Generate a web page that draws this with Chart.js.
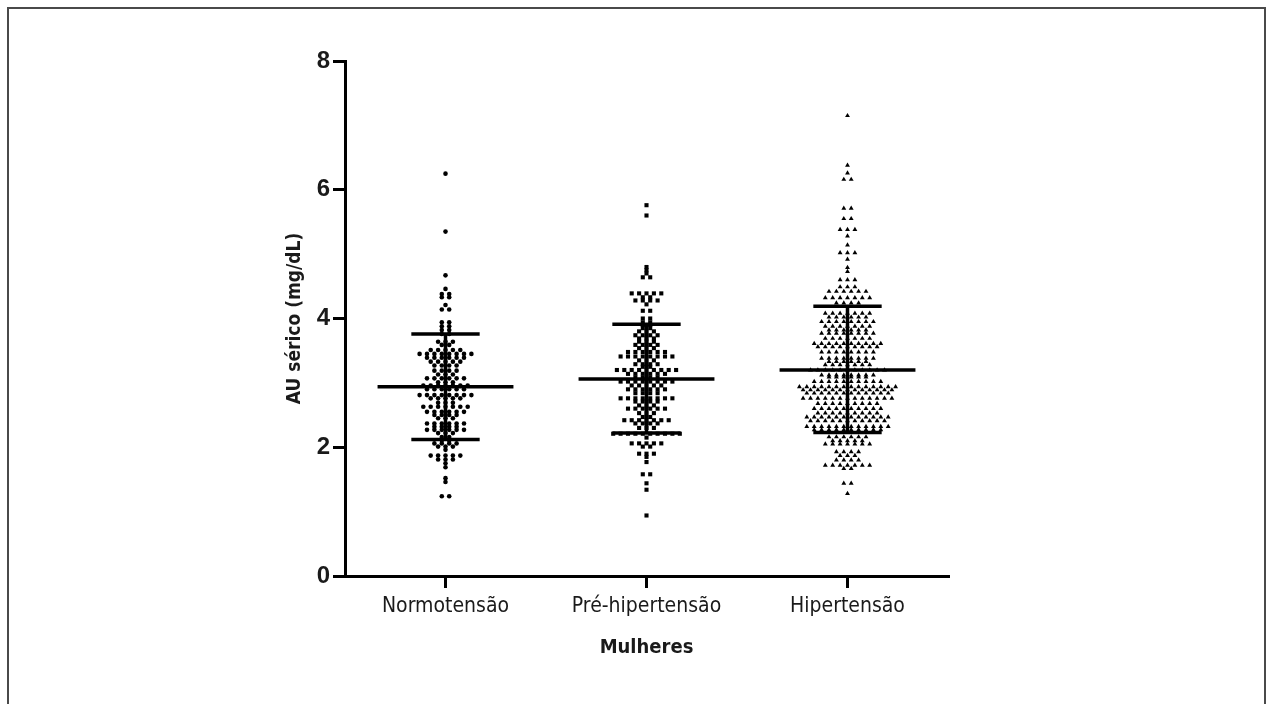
<!DOCTYPE html>
<html>
<head>
<meta charset="utf-8">
<script src="https://cdn.jsdelivr.net/npm/chart.js@4.4.1/dist/chart.umd.min.js"></script>
<style>
  body { margin: 0; background: #fff; overflow: hidden; }
  #frame { position: absolute; left: 7px; top: 7px; width: 1255px; height: 760px; border: 2px solid #4a4a4a; }
  #myChart { position: absolute; left: 0; top: 0; }
</style>
</head>
<body>
<div id="frame"></div>
<canvas id="myChart" width="1266" height="704"></canvas>
<script>
// groups on the x axis
const categories = ['Normotensão', 'Pré-hipertensão', 'Hipertensão'];
const yTicks = [0, 2, 4, 6, 8];

// AU sérico (mg/dL)
const normotensao = [
  6.25, 5.35, 4.67, 4.46, 4.38, 4.38, 4.33, 4.33, 4.21, 4.14, 4.14,
  3.94, 3.94, 3.88, 3.88, 3.82, 3.82, 3.76, 3.76,
  3.64, 3.64, 3.64, 3.59, 3.59, 3.51, 3.51, 3.51, 3.51, 3.51,
  3.45, 3.45, 3.45, 3.45, 3.45, 3.45, 3.45, 3.45,
  3.39, 3.39, 3.39, 3.39, 3.39, 3.39, 3.33, 3.33, 3.33, 3.33, 3.33,
  3.27, 3.27, 3.27, 3.27, 3.19, 3.19, 3.19, 3.19, 3.13, 3.13, 3.13,
  3.07, 3.07, 3.07, 3.07, 3.07, 3.07, 3.01, 3.01, 3.01,
  2.96, 2.96, 2.96, 2.96, 2.96, 2.96, 2.96, 2.90, 2.90, 2.90, 2.90, 2.90, 2.90,
  2.81, 2.81, 2.81, 2.81, 2.81, 2.81, 2.81, 2.81, 2.76, 2.76, 2.76, 2.76, 2.76,
  2.69, 2.69, 2.69, 2.63, 2.63, 2.63, 2.63, 2.63, 2.63, 2.63,
  2.55, 2.55, 2.55, 2.55, 2.55, 2.55, 2.50, 2.50, 2.50, 2.50, 2.45, 2.45, 2.45,
  2.37, 2.37, 2.37, 2.37, 2.37, 2.37, 2.32, 2.32, 2.32, 2.32,
  2.27, 2.27, 2.27, 2.27, 2.27, 2.27, 2.22, 2.22, 2.22, 2.16, 2.16, 2.11, 2.11,
  2.06, 2.06, 2.06, 2.06, 2.01, 2.01, 2.01, 1.96,
  1.87, 1.87, 1.87, 1.87, 1.87, 1.81, 1.81, 1.81, 1.75, 1.69, 1.52, 1.46, 1.24, 1.24
];
const preHipertensao = [
  5.76, 5.60, 4.80, 4.75, 4.70, 4.64, 4.64,
  4.39, 4.39, 4.39, 4.39, 4.39, 4.33, 4.33, 4.28, 4.28, 4.28, 4.28, 4.22,
  4.12, 4.12, 4.00, 4.00, 3.94, 3.94, 3.90, 3.90,
  3.85, 3.85, 3.80, 3.80, 3.80, 3.74, 3.74, 3.74, 3.74, 3.69, 3.69, 3.69,
  3.64, 3.64, 3.64, 3.59, 3.59, 3.59, 3.59, 3.54, 3.54, 3.54,
  3.48, 3.48, 3.48, 3.48, 3.48, 3.48,
  3.41, 3.41, 3.41, 3.41, 3.41, 3.41, 3.41, 3.41, 3.35, 3.35, 3.35,
  3.29, 3.29, 3.29, 3.29, 3.25, 3.25,
  3.20, 3.20, 3.20, 3.20, 3.20, 3.20, 3.20, 3.20, 3.20,
  3.14, 3.14, 3.14, 3.14, 3.14, 3.14, 3.08, 3.08, 3.08, 3.08,
  3.02, 3.02, 3.02, 3.02, 3.02, 3.02, 3.02, 3.02, 2.96, 2.96, 2.96, 2.96, 2.96,
  2.90, 2.90, 2.90, 2.90, 2.90, 2.90, 2.84, 2.84, 2.84, 2.84,
  2.76, 2.76, 2.76, 2.76, 2.76, 2.76, 2.76, 2.76, 2.71, 2.71, 2.71, 2.71,
  2.65, 2.65, 2.65, 2.60, 2.60, 2.60, 2.60, 2.60, 2.60, 2.53, 2.53, 2.53, 2.47, 2.47,
  2.42, 2.42, 2.42, 2.42, 2.42, 2.42, 2.42, 2.37, 2.37, 2.37, 2.37, 2.30, 2.30, 2.30,
  2.21, 2.21, 2.21, 2.21, 2.21, 2.21, 2.21, 2.21, 2.21, 2.21, 2.15,
  2.06, 2.06, 2.06, 2.06, 2.06, 2.01, 2.01, 1.90, 1.90, 1.90, 1.85, 1.77,
  1.58, 1.58, 1.44, 1.34, 0.94
];
const hipertensao = [
  7.15, 6.38, 6.26, 6.16, 6.16, 5.71, 5.71, 5.55, 5.55, 5.38, 5.38, 5.38, 5.28, 5.14,
  5.02, 5.02, 5.02, 4.92, 4.79, 4.73, 4.60, 4.60, 4.60, 4.49, 4.49, 4.49,
  4.42, 4.42, 4.42, 4.42, 4.42, 4.42, 4.32, 4.32, 4.32, 4.32, 4.32, 4.32, 4.32,
  4.24, 4.24, 4.24, 4.24, 4.08, 4.08, 4.08, 4.08, 4.08, 4.08, 4.08,
  4.02, 4.02, 4.02, 4.02, 4.02, 4.02, 3.95, 3.95, 3.95, 3.95, 3.95, 3.95, 3.95, 3.95,
  3.88, 3.88, 3.88, 3.88, 3.88, 3.88, 3.88, 3.82, 3.82, 3.82, 3.82, 3.82, 3.82,
  3.77, 3.77, 3.77, 3.77, 3.77, 3.77, 3.77, 3.77, 3.69, 3.69, 3.69, 3.69, 3.69, 3.69, 3.69,
  3.61, 3.61, 3.61, 3.61, 3.61, 3.61, 3.61, 3.61, 3.61, 3.61,
  3.56, 3.56, 3.56, 3.56, 3.56, 3.56, 3.56, 3.56, 3.56,
  3.48, 3.48, 3.48, 3.48, 3.48, 3.48, 3.48, 3.48, 3.38, 3.38, 3.38, 3.38, 3.38, 3.38, 3.38, 3.38,
  3.33, 3.33, 3.33, 3.33, 3.33, 3.33, 3.28, 3.28, 3.28, 3.28, 3.28, 3.28, 3.28,
  3.20, 3.20, 3.20, 3.20, 3.20, 3.20, 3.20, 3.20, 3.20, 3.20, 3.20,
  3.12, 3.12, 3.12, 3.12, 3.12, 3.12, 3.12, 3.12, 3.09, 3.09, 3.09, 3.09, 3.09, 3.09,
  3.02, 3.02, 3.02, 3.02, 3.02, 3.02, 3.02, 3.02, 3.02, 3.02,
  2.94, 2.94, 2.94, 2.94, 2.94, 2.94, 2.94, 2.94, 2.94, 2.94, 2.94, 2.94, 2.94, 2.94,
  2.89, 2.89, 2.89, 2.89, 2.89, 2.89, 2.89, 2.89, 2.89, 2.89, 2.89, 2.89, 2.89,
  2.84, 2.84, 2.84, 2.84, 2.84, 2.84, 2.84, 2.84, 2.84, 2.84, 2.84, 2.84,
  2.76, 2.76, 2.76, 2.76, 2.76, 2.76, 2.76, 2.76, 2.76, 2.76, 2.76, 2.76, 2.76,
  2.68, 2.68, 2.68, 2.68, 2.68, 2.68, 2.68, 2.68, 2.68,
  2.60, 2.60, 2.60, 2.60, 2.60, 2.60, 2.60, 2.60, 2.60, 2.60,
  2.53, 2.53, 2.53, 2.53, 2.53, 2.53, 2.53, 2.53, 2.53,
  2.47, 2.47, 2.47, 2.47, 2.47, 2.47, 2.47, 2.47, 2.47, 2.47, 2.47, 2.47,
  2.41, 2.41, 2.41, 2.41, 2.41, 2.41, 2.41, 2.41, 2.41, 2.41, 2.41,
  2.32, 2.32, 2.32, 2.32, 2.32, 2.32, 2.32, 2.32, 2.32, 2.32, 2.32, 2.32,
  2.27, 2.27, 2.27, 2.27, 2.27, 2.27, 2.27, 2.27, 2.27, 2.27,
  2.16, 2.16, 2.16, 2.16, 2.16, 2.16, 2.10, 2.10, 2.10, 2.10, 2.10,
  2.05, 2.05, 2.05, 2.05, 2.05, 2.05, 2.05, 1.93, 1.93, 1.93, 1.93, 1.87, 1.87, 1.87,
  1.80, 1.80, 1.80, 1.80, 1.72, 1.72, 1.72, 1.72, 1.72, 1.72, 1.72, 1.67, 1.67,
  1.44, 1.44, 1.28
];

// mean and mean ± SD lines
const means = [2.94, 3.06, 3.20];
const sdLow = [2.12, 2.22, 2.23];
const sdHigh = [3.76, 3.91, 4.19];

const PX_PER_X = 201;   // chart area is 603px wide for 3 units
const SLOT_PX = 7.4;    // horizontal spacing between dots in a row

// lay equal values side by side, centred on the column
function swarm(values, center) {
  const rows = new Map();
  values.forEach(v => rows.set(v, (rows.get(v) || 0) + 1));
  const pts = [];
  rows.forEach((n, v) => {
    for (let i = 0; i < n; i++) {
      pts.push({ x: center + (i - (n - 1) / 2) * SLOT_PX / PX_PER_X, y: v });
    }
  });
  return pts;
}

const groups = [normotensao, preHipertensao, hipertensao];
const styles = [
  { pointStyle: 'circle', pointRadius: 2.3 },
  { pointStyle: 'rect', pointRadius: 2.9 },
  { pointStyle: 'triangle', pointRadius: 2.8 }
];

const datasets = [];
const seg = (x1, y1, x2, y2) => ({
  type: 'line',
  data: [{ x: x1, y: y1 }, { x: x2, y: y2 }],
  borderColor: '#000',
  borderWidth: 3.5,
  pointRadius: 0,
  borderCapStyle: 'butt'
});
groups.forEach((g, i) => {
  const c = i + 1;
  datasets.push(seg(c - 0.338, means[i], c + 0.338, means[i]));
  datasets.push(seg(c - 0.17, sdHigh[i], c + 0.17, sdHigh[i]));
  datasets.push(seg(c - 0.17, sdLow[i], c + 0.17, sdLow[i]));
  datasets.push(seg(c, sdLow[i], c, sdHigh[i]));
  datasets.push({
    data: swarm(g, c),
    backgroundColor: '#000',
    borderWidth: 0,
    pointStyle: styles[i].pointStyle,
    pointRadius: styles[i].pointRadius,
    pointHoverRadius: styles[i].pointRadius
  });
});

const narrow = "'Liberation Sans Narrow', 'DejaVu Sans Condensed', 'Liberation Sans', sans-serif";

new Chart(document.getElementById('myChart'), {
  type: 'scatter',
  data: { datasets },
  options: {
    responsive: false,
    animation: false,
    layout: { padding: { left: 270, right: 318, top: 61, bottom: 40 } },
    plugins: { legend: { display: false }, tooltip: { enabled: false } },
    scales: {
      x: {
        type: 'linear',
        min: 0.5,
        max: 3.5,
        afterBuildTicks: s => { s.ticks = categories.map((_, i) => ({ value: i + 1 })); },
        afterFit: s => { s.height = 88; },
        ticks: {
          callback: v => categories[v - 1],
          color: '#1a1a1a',
          padding: 6,
          font: { family: narrow, size: 21 }
        },
        grid: { drawOnChartArea: false, drawTicks: true, tickLength: 12, lineWidth: 3, color: '#000' },
        border: { display: true, width: 3, color: '#000' },
        title: {
          display: true,
          text: 'Mulheres',
          color: '#1a1a1a',
          padding: { top: 0, bottom: 4 },
          font: { family: narrow, size: 20, weight: 'bold' }
        }
      },
      y: {
        min: 0,
        max: 8,
        afterBuildTicks: s => { s.ticks = yTicks.map(v => ({ value: v })); },
        afterFit: s => { s.width = 75; },
        ticks: {
          color: '#1a1a1a',
          padding: 3,
          font: { family: "'Liberation Sans', Arial, sans-serif", size: 24, weight: 'bold' }
        },
        grid: { drawOnChartArea: false, drawTicks: true, tickLength: 12, lineWidth: 3, color: '#000' },
        border: { display: true, width: 3, color: '#000' },
        title: {
          display: true,
          text: 'AU sérico (mg/dL)',
          color: '#1a1a1a',
          padding: { top: 14, bottom: 0 },
          font: { family: narrow, size: 19, weight: 'bold' }
        }
      }
    }
  }
});
</script>
</body>
</html>
